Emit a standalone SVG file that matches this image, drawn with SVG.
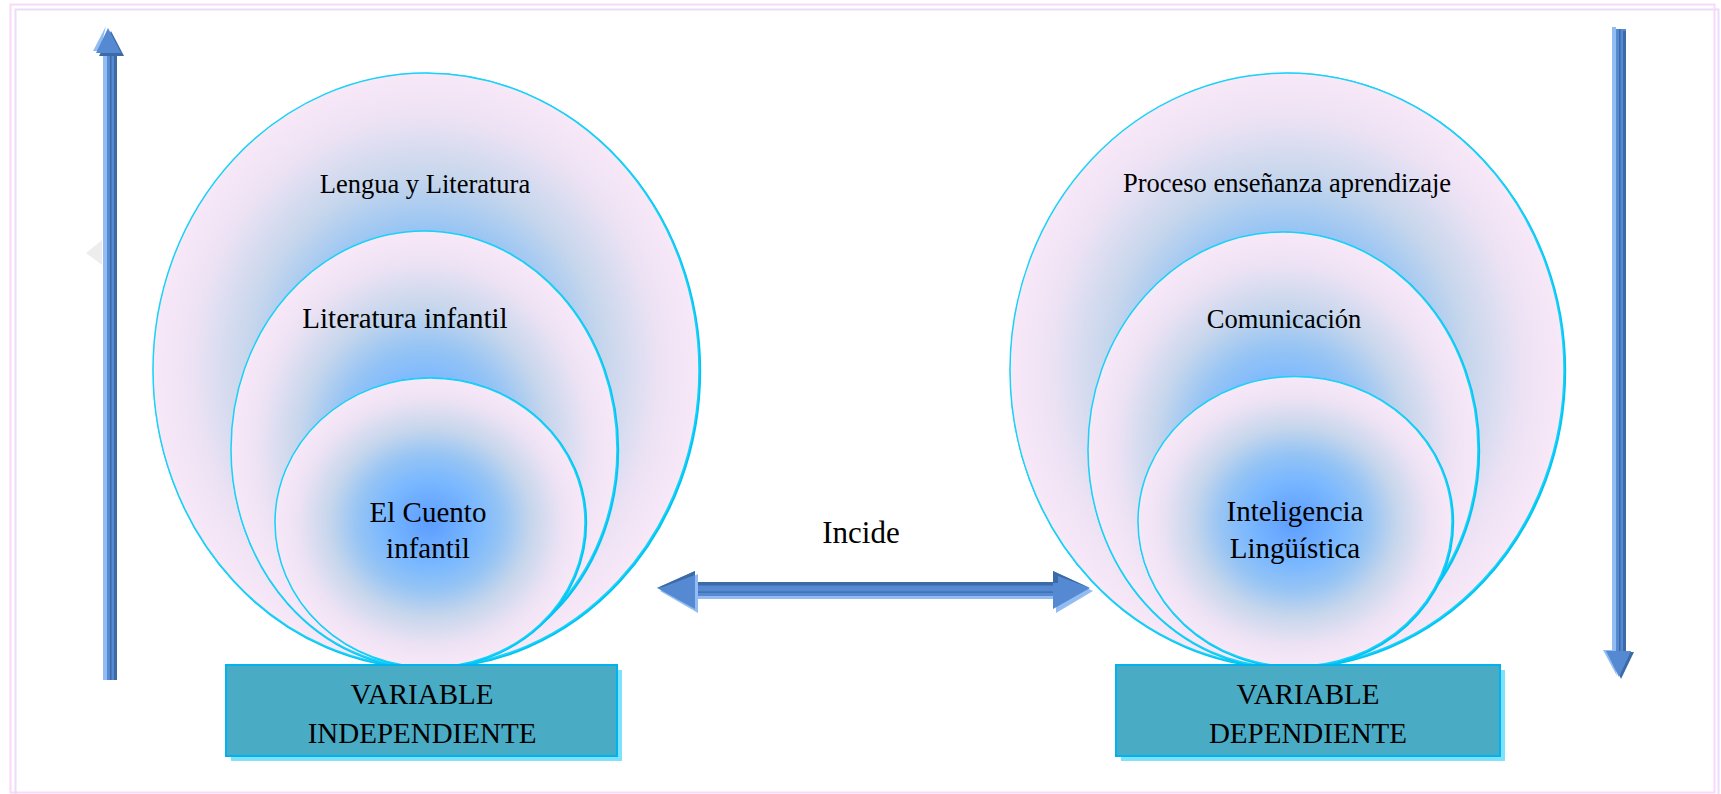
<svg xmlns="http://www.w3.org/2000/svg" width="1721" height="794" viewBox="0 0 1721 794">
<style>
.lbl{font-family:"Liberation Serif","Times New Roman",serif;fill:#000;text-anchor:middle}
.s26{font-size:26.5px}
.s29{font-size:29px}
.ell{fill:url(#rg);stroke:#18d2f8;stroke-width:1.5}
.ellsh{fill:none;stroke:#00c4f4;stroke-width:2.4}
.box{fill:#4aabc5;stroke:#00b2ee;stroke-width:2}
.boxsh{fill:#7fe2fc}
.lt{fill:#92bcf2}
.md{fill:#5589d2}
.dk{fill:#3b6aa6}
</style>
<defs>
<radialGradient id="rg" cx="50%" cy="50%" r="50%">
<stop offset="0" stop-color="#5c9dff"/>
<stop offset="0.3" stop-color="#7ab8ff"/>
<stop offset="0.47" stop-color="#96c4f4"/>
<stop offset="0.65" stop-color="#c6d6ec"/>
<stop offset="0.85" stop-color="#ece2f4"/>
<stop offset="1" stop-color="#f8e8f8"/>
</radialGradient>
</defs>
<rect x="0" y="0" width="1721" height="794" fill="#fff"/>
<rect x="10.5" y="4.5" width="1704" height="788" fill="none" stroke="#f9d8f9" stroke-width="2"/>
<rect x="15.5" y="9.5" width="1703" height="790" fill="none" stroke="#ebdcf9" stroke-width="2"/>
<polygon points="86,253 102,240 102,265" fill="#ededed"/>

<g id="left-set">
<ellipse class="ellsh" cx="427" cy="371" rx="273" ry="297"/>
<ellipse class="ell" cx="426" cy="370" rx="273" ry="297"/>
<ellipse class="ellsh" cx="425" cy="450" rx="193" ry="218"/>
<ellipse class="ell" cx="424" cy="449" rx="193" ry="218"/>
<ellipse class="ellsh" cx="431" cy="523" rx="155" ry="144.5"/>
<ellipse class="ell" cx="430" cy="522.5" rx="155" ry="144.5"/>
</g>
<g id="n-lengua"><text class="lbl s26" x="425" y="193">Lengua y Literatura</text></g>
<g id="n-literatura"><text class="lbl s29" x="405" y="328">Literatura infantil</text></g>
<g id="n-cuento"><text class="lbl s29" x="428" y="522">El Cuento</text><text class="lbl s29" x="428" y="558">infantil</text></g>

<g id="right-set">
<ellipse class="ellsh" cx="1288" cy="371" rx="277" ry="297"/>
<ellipse class="ell" cx="1287" cy="370" rx="277" ry="297"/>
<ellipse class="ellsh" cx="1284" cy="450.5" rx="195" ry="217.5"/>
<ellipse class="ell" cx="1283" cy="449.5" rx="195" ry="217.5"/>
<ellipse class="ellsh" cx="1296" cy="522.5" rx="157" ry="145"/>
<ellipse class="ell" cx="1295" cy="521.5" rx="157" ry="145"/>
</g>
<g id="n-proceso"><text class="lbl s26" x="1287" y="192">Proceso enseñanza aprendizaje</text></g>
<g id="n-comunicacion"><text class="lbl s26" x="1284" y="328">Comunicación</text></g>
<g id="n-inteligencia"><text class="lbl s29" x="1295" y="521">Inteligencia</text><text class="lbl s29" x="1295" y="558">Lingüística</text></g>

<g id="n-var-ind">
<rect class="boxsh" x="231" y="670" width="391" height="91"/>
<rect class="box" x="226" y="665" width="391" height="91"/>
<text class="lbl s29" x="422" y="704">VARIABLE</text>
<text class="lbl s29" x="422" y="743">INDEPENDIENTE</text>
</g>
<g id="n-var-dep">
<rect class="boxsh" x="1121" y="670" width="384" height="91"/>
<rect class="box" x="1116" y="665" width="384" height="91"/>
<text class="lbl s29" x="1308" y="704">VARIABLE</text>
<text class="lbl s29" x="1308" y="743">DEPENDIENTE</text>
</g>

<g id="connectors">
<g>
<rect class="lt" x="103" y="52" width="4" height="628"/>
<rect class="md" x="107" y="54" width="10" height="626"/>
<rect class="dk" x="110" y="54" width="1.5" height="626"/>
<rect class="dk" x="114" y="56" width="3" height="624"/>
<polygon class="dk" points="111,31 124,56 99,56"/>
<polygon class="lt" points="106,26 100,51 93,51"/>
<polygon class="md" points="108,28 121,53 96,53"/>
</g>
<g>
<rect class="lt" x="1612" y="27" width="4" height="627"/>
<rect class="md" x="1616" y="29" width="10" height="625"/>
<rect class="dk" x="1619" y="29" width="1.5" height="625"/>
<rect class="dk" x="1623" y="31" width="3" height="623"/>
<polygon class="lt" points="1603,650 1612,650 1617,676"/>
<polygon class="dk" points="1609,652 1634,652 1621,679"/>
<polygon class="md" points="1606,651 1631,651 1619,677"/>
</g>
<g>
<rect class="lt" x="690" y="592" width="366" height="7"/>
<rect class="md" x="690" y="582" width="366" height="14"/>
<rect class="dk" x="690" y="582" width="366" height="3.5"/>
<rect class="dk" x="690" y="591.5" width="366" height="1.2"/>
<polygon class="lt" points="660,591 698,574 698,613"/>
<polygon class="md" points="657,588 695,571 695,609"/>
<polygon class="dk" points="657,588 695,571 695,575 663,587"/>
<polygon class="lt" points="1093,591 1056,574 1056,613"/>
<polygon class="md" points="1090,588 1053,571 1053,609"/>
<polygon class="dk" points="1090,588 1053,571 1053,583 1058,583 1058,576"/>
</g>
</g>
<g id="n-incide"><text class="lbl" style="font-size:31px" x="861" y="543">Incide</text></g>
</svg>
